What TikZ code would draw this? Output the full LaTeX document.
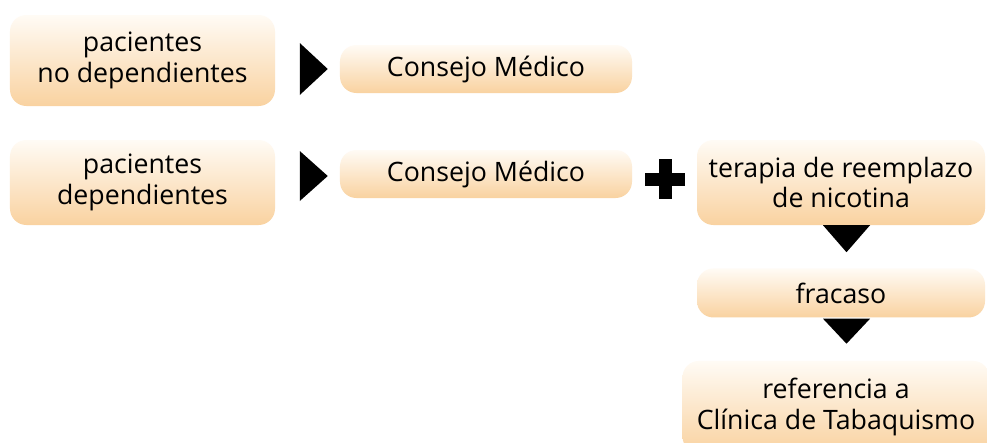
\documentclass[tikz,border=0pt]{standalone}
\usepackage{fontspec}
\setmainfont{Open Sans}
\usetikzlibrary{positioning, calc}
\definecolor{boxtop}{RGB}{255,251,245}
\definecolor{boxmid}{RGB}{253,237,214}
\definecolor{boxpeach}{RGB}{249,210,160}
\begin{document}
\begin{tikzpicture}[x=0.03cm, y=-0.03cm,
    stagebox/.style={rectangle, rounded corners=14pt, top color=boxtop, middle color=boxmid, bottom color=boxpeach, align=center, inner sep=0pt, font=\fontsize{22.8}{26}\selectfont}]
  \useasboundingbox (0,0) rectangle (987,442);
  \clip (0,0) rectangle (987,442);
  \fill[white] (0,0) rectangle (987,442);

  % Patients
  \node[stagebox, minimum width=7.95cm, minimum height=2.73cm] (pnd) at (142.5,60.5) {pacientes\\no dependientes};
  \node[stagebox, minimum width=7.95cm, minimum height=2.55cm] (pd) at (142.5,182.5) {pacientes\\dependientes};

  % Treatment
  \node[stagebox, minimum width=8.76cm, minimum height=1.44cm] (cm1) at (486,69) {Consejo Médico};
  \node[stagebox, minimum width=8.76cm, minimum height=1.44cm] (cm2) at (486,174) {Consejo Médico};
  \node[stagebox, minimum width=8.64cm, minimum height=2.55cm] (trn) at (841,182.5) {terapia de reemplazo\\de nicotina};
  \node[stagebox, minimum width=8.64cm, minimum height=1.47cm, below=1.29cm of trn] (fra) {fracaso};
  \node[stagebox, minimum width=9.21cm, minimum height=2.76cm, below=1.29cm of fra, xshift=-0.15cm] (ref) {referencia a\\Clínica de Tabaquismo};

  % Arrows between stages
  \fill ($(cm1.west)+(-40,-26)$) -- ($(cm1.west)+(-12,0)$) -- ($(cm1.west)+(-40,26)$) -- cycle;
  \fill ($(cm2.west)+(-40,-23)$) -- ($(cm2.west)+(-12,2)$) -- ($(cm2.west)+(-40,27)$) -- cycle;
  \fill ($(trn.south)+(-18,0)$) -- ($(trn.south)+(29,0)$) -- ($(trn.south)+(5.5,27)$) -- cycle;
  \fill ($(fra.south)+(-18,1)$) -- ($(fra.south)+(29,1)$) -- ($(fra.south)+(5.5,26)$) -- cycle;

  % Plus sign
  \coordinate (plus) at (665,179);
  \fill ($(plus)+(-20,-6.5)$) rectangle ($(plus)+(20,6.5)$);
  \fill ($(plus)+(-6.5,-20)$) rectangle ($(plus)+(6.5,20)$);
\end{tikzpicture}
\end{document}
